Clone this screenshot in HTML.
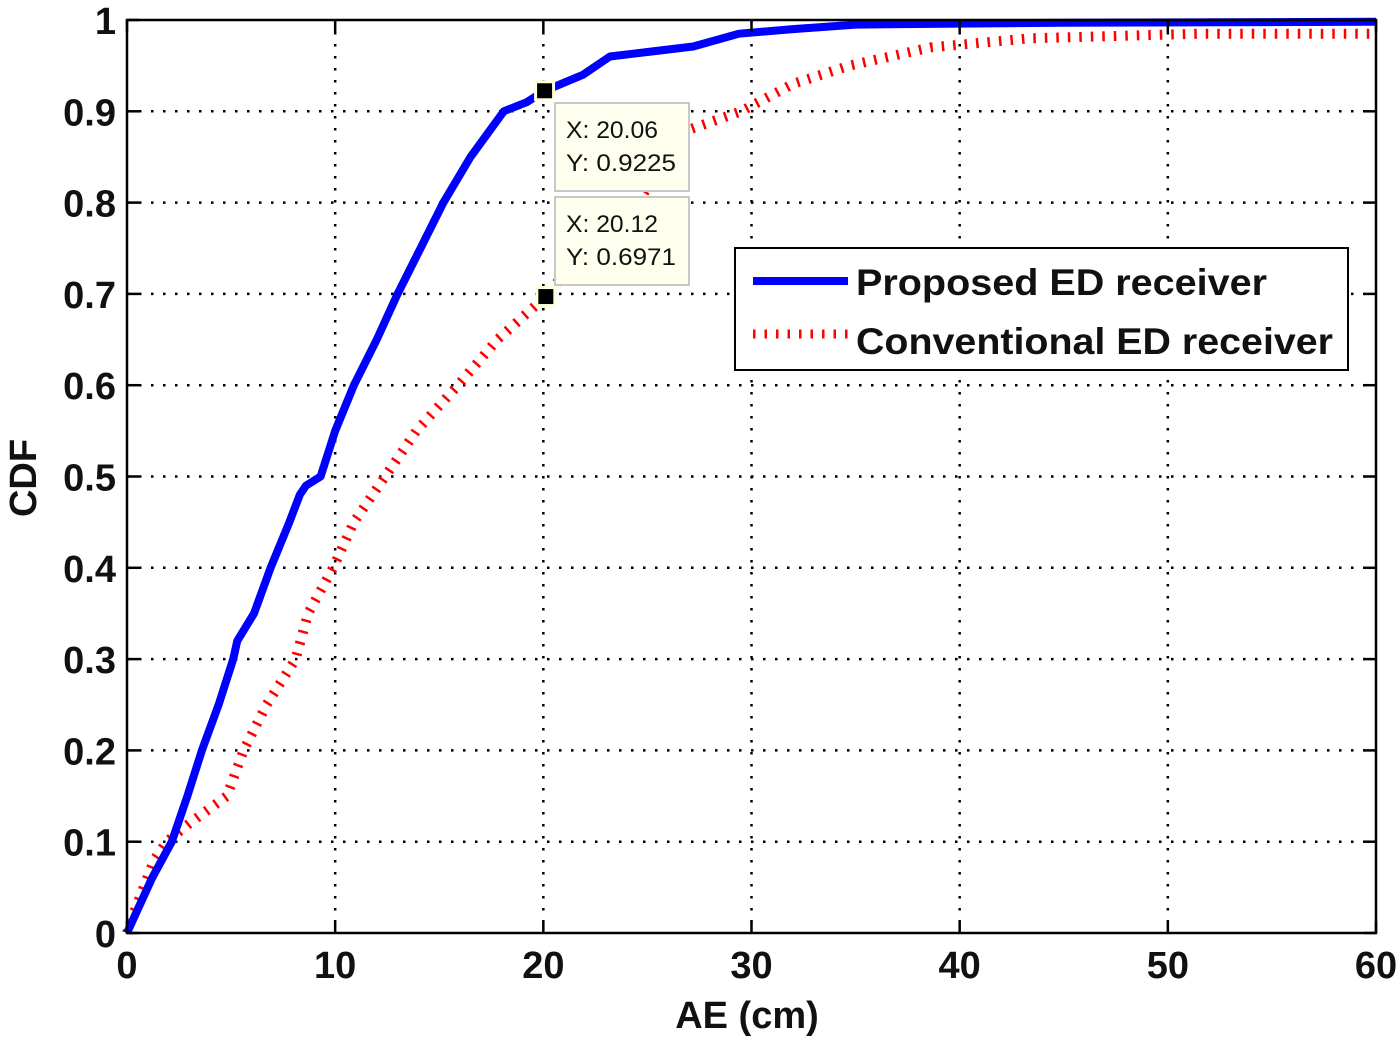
<!DOCTYPE html>
<html><head><meta charset="utf-8"><style>
html,body{margin:0;padding:0;background:#fff;}
svg{display:block;font-family:"Liberation Sans",Arial,sans-serif;}
</style></head><body>
<svg id="chart" width="1400" height="1042" viewBox="0 0 1400 1042">
<g id="grid"></g>
<g id="series"></g>
<rect x="127" y="20" width="1249" height="913" fill="none" stroke="#000" stroke-width="2.5"/>
<g id="ticks"></g>
<text x="747" y="1028" font-size="38" text-anchor="middle" font-weight="bold" fill="#111">AE (cm)</text>
<text x="0" y="0" transform="translate(36,478) rotate(-90)" font-size="38" text-anchor="middle" font-weight="bold" fill="#111">CDF</text>
<g id="tips"></g>
<g>
<rect x="735" y="248" width="613" height="122" fill="#fff" stroke="#000" stroke-width="2"/>
<line x1="753" y1="281" x2="848" y2="281" stroke="#0000ff" stroke-width="8"/>
<text x="856" y="295" font-size="37" font-weight="bold" fill="#111" textLength="411" lengthAdjust="spacingAndGlyphs">Proposed ED receiver</text>
<line x1="753" y1="334" x2="848" y2="334" stroke="#ff0000" stroke-width="9" stroke-dasharray="2.5 9"/>
<text x="856" y="354" font-size="37" font-weight="bold" fill="#111" textLength="477" lengthAdjust="spacingAndGlyphs">Conventional ED receiver</text>
</g>
</svg>
<script>
const xTicks=[0,10,20,30,40,50,60];
const yTicks=[0,0.1,0.2,0.3,0.4,0.5,0.6,0.7,0.8,0.9,1];
const yTickLabels=["0","0.1","0.2","0.3","0.4","0.5","0.6","0.7","0.8","0.9","1"];
const proposedX=[0,0.4,1.2,2.15,2.9,3.6,4.4,5.1,5.3,6.1,6.9,7.8,8.3,8.6,9.3,10,10.9,12,13.0,14.1,15.2,16.5,18.1,19.2,20.06,21.9,23.2,25,27.2,29.4,32,35,45,60];
const proposedY=[0,0.02,0.06,0.1,0.15,0.2,0.25,0.3,0.32,0.35,0.4,0.45,0.48,0.49,0.5,0.55,0.6,0.65,0.7,0.75,0.8,0.85,0.9,0.91,0.9225,0.94,0.96,0.965,0.971,0.985,0.99,0.995,0.997,0.998];
const convX=[0,0.3,0.8,1.3,1.9,3.0,4.8,5.6,6.7,8.1,8.7,9.9,10.9,12.4,13.9,15.9,17.8,20.12,22,24.5,27,29.5,32,34.7,38.6,43.4,51.5,60];
const convY=[0,0.02,0.05,0.08,0.1,0.12,0.15,0.2,0.25,0.3,0.35,0.4,0.45,0.5,0.55,0.6,0.65,0.6971,0.75,0.8,0.88,0.9,0.93,0.95,0.97,0.98,0.985,0.985];
const tipX=[20.06,20.12];
const tipY=[0.9225,0.6971];
const tipLabelX=["X: 20.06","X: 20.12"];
const tipLabelY=["Y: 0.9225","Y: 0.6971"];
const NS="http://www.w3.org/2000/svg";
const X0=127,X1=1376,Y0=933,Y1=20;
const sx=v=>X0+(v-0)/(60-0)*(X1-X0);
const sy=v=>Y0-(v-0)/(1-0)*(Y0-Y1);
function mk(t,a,p){const e=document.createElementNS(NS,t);for(const k in a)e.setAttribute(k,a[k]);p.appendChild(e);return e;}
const grid=document.getElementById('grid'),ticks=document.getElementById('ticks'),ser=document.getElementById('series'),tips=document.getElementById('tips');
xTicks.forEach((v,i)=>{
 const x=sx(v);
 if(i>0&&i<xTicks.length-1){const g=mk('line',{x1:x,y1:Y1,x2:x,y2:Y0,stroke:'#000','stroke-width':2.5,'stroke-dasharray':'2.5 9.5'},grid);
 
 }
 const t1=mk('line',{x1:x,y1:Y0,x2:x,y2:Y0-12,stroke:'#000','stroke-width':2.5},ticks);
 
 
 const t2=mk('line',{x1:x,y1:Y1,x2:x,y2:Y1+12,stroke:'#000','stroke-width':2.5},ticks);
 
 
 const l=mk('text',{x:x,y:978,'font-size':38,'font-weight':'bold','text-anchor':'middle',fill:'#111'},ticks);l.textContent=String(v);
 
 
});
yTicks.forEach((v,i)=>{
 const y=sy(v);
 if(i>0&&i<yTicks.length-1){const g=mk('line',{x1:X0,y1:y,x2:X1,y2:y,stroke:'#000','stroke-width':2.5,'stroke-dasharray':'2.5 9.5'},grid);
 
 }
 const t1=mk('line',{x1:X0,y1:y,x2:X0+12,y2:y,stroke:'#000','stroke-width':2.5},ticks);
 
 
 const t2=mk('line',{x1:X1,y1:y,x2:X1-12,y2:y,stroke:'#000','stroke-width':2.5},ticks);
 
 
 const l=mk('text',{x:116,y:y+14,'font-size':38,'font-weight':'bold','text-anchor':'end',fill:'#111'},ticks);l.textContent=yTickLabels[i];
 
 
});
function pathOf(xs,ys){return xs.map((v,i)=>(i?'L':'M')+sx(v).toFixed(1)+','+sy(ys[i]).toFixed(1)).join(' ');}
const pc=mk('path',{d:pathOf(convX,convY),fill:'none',stroke:'#ff0000','stroke-width':10,'stroke-dasharray':'2.5 9'},ser);


const pp=mk('path',{d:pathOf(proposedX,proposedY),fill:'none',stroke:'#0000ff','stroke-width':8,'stroke-linejoin':'round'},ser);


const boxY=[103,197];
tipX.forEach((v,i)=>{
 const x=sx(v),y=sy(tipY[i]);
 const m=mk('rect',{x:x-9,y:y-9,width:18,height:18,fill:'#000',stroke:'#ffffdd','stroke-width':3},tips);
 
 
 const b=mk('rect',{x:555,y:boxY[i],width:134,height:88,fill:'#ffffee',stroke:'#c8c8c8','stroke-width':2},tips);
 
 
 const t1=mk('text',{x:566,y:boxY[i]+35,'font-size':24,fill:'#111',textLength:92,lengthAdjust:'spacingAndGlyphs'},tips);t1.textContent=tipLabelX[i];
 
 
 const t2=mk('text',{x:566,y:boxY[i]+68,'font-size':24,fill:'#111',textLength:110,lengthAdjust:'spacingAndGlyphs'},tips);t2.textContent=tipLabelY[i];
 
 
});
</script>
</body></html>
